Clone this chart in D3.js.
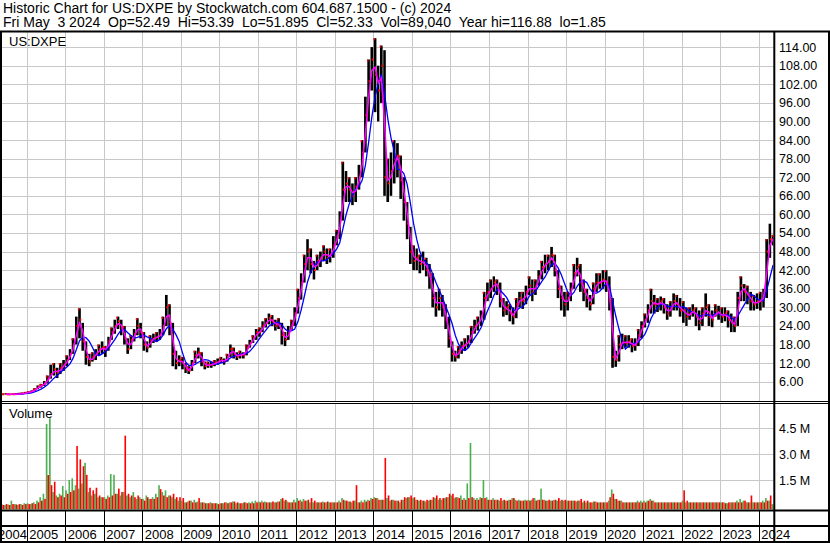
<!DOCTYPE html>
<html>
<head>
<meta charset="utf-8">
<script src="https://cdn.jsdelivr.net/npm/d3@7"></script>
<style>
  body { margin: 0; background: #fff; }
  svg { display: block; font-family: "Liberation Sans", Arial, sans-serif; }
</style>
</head>
<body>
<div id="chart"></div>
<script>
// monthly bars, first one is May 2004, last one is May 2024
const firstYear = 2004, firstMonth = 4

const closes = [
  1.95,2.0,1.9,1.95,2.0,2.1,2.2,2.4,
  2.6,2.9,3.5,4.3,4.8,5.5,7.0,8.5,10.0,8.8,10.5,11.5,
  13,15,18,24,26,19,14,12.5,14,15,16.5,17,
  16,19,22,24,25.5,23,20,16.5,19.5,21.5,24,22,
  18,17,19.5,20,20.5,21,24,30,25,15,12,13,
  12,10,9.5,12,14.5,15.5,12.5,11,11.5,11.5,12,12.5,
  13,12.5,14,16.5,15,14,15,14.5,17,18.5,20,22,
  22,24,25,26.5,25.5,24,25,21,19.5,22,24.5,28,
  33,38,44,48,44,42,45,46,48,46,47,50,
  53,58,68,70,68,66,69,72,80,92,103,110,
  105,100,108,72,70,74,78,79,71,64,57,48,
  45,46,44,45,42,40,33,30,33,30,26,20,
  15,14,16,17.5,18,19,22,24,25,27,33,35,
  36,38,37,32,29,30,28,27,31,33,32,35,
  37,35,37,40,43,44,45,47,42,36,33,31,
  33,36,41,43,38,35,33,31,36,38,38,39,
  38,32,14,13,18,19,18.5,19,17.5,18,21,24,
  26,29,32,31,31,32,30,28,30,32,31,29,
  29,27,28,29,27,25,28,30,27,26,29,28,
  27,28,26,25,24,33,37,35,34,32,31,32,
  32,34,48,52,52.33
]

const highs = [
  2.2,2.3,2.2,2.2,2.3,2.4,2.5,2.7,
  2.9,3.2,3.9,4.8,5.3,6.2,8.0,11.5,12.0,10.5,12.0,13.0,
  14.5,16.5,20,27,29.7,25,19,15,15.5,16.5,18,19,
  17.5,20.5,23.5,26,27,26,24,20,21,23,26.5,25,
  22,19,21,21.5,22,23,27,34,31,25,16,14.5,
  14,12,11,13,16,17,15.5,12.5,12.5,12.5,13,13.5,
  14,13.5,15,18,17,15.5,16,15.5,18,19.5,21,23,
  23.5,25.5,26.5,28,27.5,26,26.5,25,22,24,26,30,
  36,41,47,52,49,45,47,48,50,49,49,53,
  55,61,77,74,72,70,72,76,84,98,110,114,
  116.88,108,114.5,113,78,80,84,83,79,72,64,56,
  50,49,47,48,46,44,41,35,36,34,31,27,
  19,16,17.5,19,20,21,24,26,27,29,35,38,
  39,40,39,38,33,32,31,30,33,35,35,37,
  40,39,39,42,45,47,47,49.5,47,42,37,35,
  35,38,44,46,44,39,36,34,38,41,41,42,
  42,40,33,16,21,21.5,21,21,20,20,23,25.5,
  28,31,36,34,33,33.5,33,31,32,34.5,34,33,
  32,30,30,31,30,29,30,34.5,31,29,31,30.5,
  30,30,29,28,27,35,40,37.5,37,35,34,34.5,
  35,36,52,57,53.39
]

const lows = [
  1.85,1.85,1.85,1.85,1.9,1.95,2.0,2.1,
  2.3,2.5,3.0,3.6,4.1,4.6,5.4,7.0,8.0,7.2,8.5,9.5,
  11,13,15,18,20,16,11.5,11,12.5,13,14.5,15,
  14,16,19.5,21.5,23,21,18,15,16.5,19,21,20,
  16,15.5,17,18.5,19,19.5,21,24,21,11,10,11,
  10,8.8,8.5,9.5,12,13.5,11,10,10.5,10.5,11,11.5,
  12,11.5,12.5,14,13.5,13,13.5,13.5,14.5,17,18.5,19.5,
  20.5,22,23.5,24.5,24,22.5,23,18,17.5,19.5,22.5,24,
  28,32.5,38,42,41,39,42,43,45,44,44.5,46,
  50,52,58,64,64,63,64,68,72,80,90,100,
  93,90,96,66,64,66,70,72,65,58,52,44,
  42,42,41,42,40,36,30,27,29,27,23,17,
  12.5,12.5,13.5,15,16,17,18.5,21.5,22.5,24,26,32,
  33,35,34,30,27,27.5,25.5,24.5,26.5,30,29.5,31,
  34,32,34,37,39,41,42,43,40,33,29,27,
  29,32,36,40,35,32,30,29,31,35,36,36,
  35,29,10.5,10.8,12.5,16.5,17,17,15.5,16,17.5,20,
  23.5,25,28,28,28.5,29,28,26,27,29,29,27,
  25,24,26,27,24,22.6,24,27,24,23.6,27,26,
  25,25.5,23.5,22,22,24,32,32,31,29,29,29.5,
  29,30,33,46,50
]

// volume in millions, split into up-day and down-day volume
const volUp = [
  .1,.05,.08,.3,.1,.05,.1,.15,
  .15,.1,.2,.3,.5,.7,4.76,5.09,.8,.6,.7,1.15,
  .9,1.5,1.6,1.2,1.0,1.3,2.5,.8,.6,.7,.5,.5,
  .5,.6,1.85,1.8,.7,.6,.8,.6,.5,.8,.4,.5,
  .4,.6,.4,.5,.7,1.2,.8,.9,.6,.5,.4,.3,
  .3,.2,.25,.3,.35,.25,.2,.2,.15,.2,.15,.15,
  .15,.15,.2,.2,.25,.15,.15,.15,.2,.2,.25,.3,
  .25,.3,.25,.2,.2,.2,.25,.4,.3,.25,.2,.35,
  .45,.35,.4,.3,.2,.2,.2,.2,.25,.2,.2,.2,
  .2,.3,.45,.3,.25,.2,.3,.2,.3,.35,.35,.45,
  .5,.45,.35,.35,.45,.3,.35,.3,.2,.35,.45,.5,
  .45,.35,.3,.3,.25,.3,.35,.45,.35,.35,.45,.5,
  .6,.45,.5,.6,.45,1.3,3.65,.45,.45,.5,1.5,.5,
  .35,.45,.35,.3,.3,.3,.35,.45,.35,.35,.3,.35,
  .35,.35,.45,.35,1.0,.35,.3,.3,.35,.3,.3,.3,
  .3,.3,.3,.25,.3,.2,.2,.2,.2,.25,.2,.2,
  .2,.3,.95,.4,.3,.3,.2,.2,.2,.2,.3,.3,
  .3,.3,.4,.3,.2,.2,.2,.2,.2,.2,.2,.2,
  .3,.2,.2,.2,.2,.2,.2,.2,.2,.2,.2,.2,
  .2,.2,.15,.2,.2,.3,.4,.3,.2,.2,.2,.2,
  .2,.3,.45,.3,.1
]

const volDown = [
  .05,.1,.05,.1,.08,.1,.05,.1,
  .1,.15,.1,.2,.3,.4,1.79,1.2,1.4,.5,.6,.5,
  .7,.8,.9,3.48,2.7,2.3,1.8,1.05,.9,1.05,.6,.5,
  .4,.5,.6,.7,1.0,.8,4.08,.7,.6,.5,.6,.4,
  .3,.5,.4,.4,.5,.97,.6,.5,.6,.7,.5,.5,
  .45,.2,.3,.2,.2,.45,.2,.15,.15,.15,.15,.1,
  .15,.2,.15,.2,.25,.2,.15,.2,.15,.15,.15,.2,
  .2,.2,.2,.2,.25,.2,.25,.45,.35,.2,.2,.2,
  .3,.25,.3,.35,.45,.3,.2,.2,.2,.25,.2,.2,
  .2,.2,.35,.3,.25,.3,1.2,.2,.2,.25,.3,.4,
  .45,.35,.35,2.78,.6,.35,.3,.3,.35,.5,.5,.6,
  .5,.35,.35,.3,.35,.35,.5,.6,.45,.45,.5,.7,
  .7,.5,.45,.35,.35,.45,.5,.35,.35,.45,.45,.35,
  .35,.35,.35,.45,.35,.3,.35,.45,.3,.3,.3,.3,
  .3,.45,.3,.35,.35,.3,.35,.3,.35,.45,.35,.35,
  .3,.3,.3,.3,.4,.3,.3,.2,.25,.2,.2,.2,
  .2,.5,.7,.4,.3,.2,.2,.2,.2,.2,.2,.2,
  .2,.3,.3,.2,.2,.2,.2,.2,.2,.2,.2,.2,
  .9,.3,.2,.2,.2,.2,.2,.2,.2,.2,.2,.2,
  .2,.15,.2,.2,.2,.2,.2,.3,.2,.6,.2,.2,
  .2,.2,.3,.6,.1
]

const yearLabels = d3.range(2004, 2025).map(String)
const priceTicks = d3.range(6, 115, 6)
const volTicks = [1.5, 3.0, 4.5]

const titleLine = "Historic Chart for US:DXPE by Stockwatch.com 604.687.1500 - (c) 2024"
const quoteLine = "Fri May  3 2024  Op=52.49  Hi=53.39  Lo=51.895  Cl=52.33  Vol=89,040  Year hi=116.88  lo=1.85"
const symbol = "US:DXPE"

// layout
const W = 830, H = 543
const plotL = 2, plotR = 773.3
const priceTop = 32, priceBot = 401
const volTop = 404, volBot = 509.5

const svg = d3.select("#chart").append("svg").attr("width", W).attr("height", H)
svg.append("rect").attr("width", W).attr("height", H).attr("fill", "#fff")

const x = d3.scaleTime()
  .domain([new Date(2005, 0, 1), new Date(2024, 0, 1)])
  .range([26.7, 758.7])
const y = d3.scaleLinear().domain([0, 119.2]).range([400.3, 31])
const yv = d3.scaleLinear().domain([0, 4.5]).range([505.8, 428.4])

const n = Math.min(closes.length, highs.length, lows.length, volUp.length, volDown.length)
const months = d3.range(n).map(i => {
  const d0 = new Date(firstYear, firstMonth + i, 1)
  const d1 = new Date(firstYear, firstMonth + i + 1, 1)
  return {i, x0: x(d0), x1: x(d1), mid: (x(d0) + x(d1)) / 2,
    c: closes[i], h: highs[i], l: lows[i], up: volUp[i], dn: volDown[i]}
})
const years = yearLabels.map(s => new Date(+s, 0, 1))
const crisp = v => Math.round(v) + 0.5
// keep the double spaces of the quote line visible
const keepSpaces = s => s.replace(/  /g, " \u00a0")

const defs = svg.append("defs")
defs.append("clipPath").attr("id", "clipPrice").append("rect")
  .attr("x", plotL).attr("y", priceTop).attr("width", plotR - plotL).attr("height", priceBot - priceTop)
defs.append("clipPath").attr("id", "clipVol").append("rect")
  .attr("x", plotL).attr("y", volTop).attr("width", plotR - plotL).attr("height", volBot - volTop)

//grid
const grid = svg.append("g").attr("stroke", "#c8c8c8").attr("stroke-width", 1)
grid.selectAll(".hp").data(priceTicks).join("line")
  .attr("x1", plotL).attr("x2", plotR).attr("y1", d => crisp(y(d))).attr("y2", d => crisp(y(d)))
grid.selectAll(".hv").data(volTicks).join("line")
  .attr("x1", plotL).attr("x2", plotR).attr("y1", d => crisp(yv(d))).attr("y2", d => crisp(yv(d)))
grid.selectAll(".vp").data(years).join("line")
  .attr("x1", d => crisp(x(d))).attr("x2", d => crisp(x(d))).attr("y1", priceTop).attr("y2", priceBot)
grid.selectAll(".vv").data(years).join("line")
  .attr("x1", d => crisp(x(d))).attr("x2", d => crisp(x(d))).attr("y1", volTop).attr("y2", volBot)

// price bars
const price = svg.append("g").attr("clip-path", "url(#clipPrice)")
price.selectAll(".bar").data(months).join("rect")
  .attr("x", d => d.x0 + 0.3).attr("width", d => d.x1 - d.x0 - 0.6)
  .attr("y", d => y(d.h)).attr("height", d => y(d.l) - y(d.h))
  .attr("fill", "#000")
price.selectAll(".tick").data(months).join("rect")
  .attr("x", d => d.mid).attr("width", 1.8)
  .attr("y", d => y(d.c) - 1).attr("height", 2)
  .attr("fill", "#ff0000")
price.selectAll(".hiTick").data(months.filter(d => d.i % 2 == 0)).join("rect")
  .attr("x", d => d.x0).attr("width", 1.5)
  .attr("y", d => y(d.h)).attr("height", 2)
  .attr("fill", "#ff0000")

function movingAvg(vals, len) {
  return vals.map((v, i) => i < len - 1 ? null : d3.mean(vals.slice(i - len + 1, i + 1)))
}
const maFast = movingAvg(closes.slice(0, n), 2)
const maSlow = movingAvg(closes.slice(0, n), 5)

const maLine = arr => d3.line()
  .defined((d, i) => arr[i] != null)
  .x(d => d.mid)
  .y((d, i) => y(arr[i]))

price.append("path").datum(months).attr("d", maLine(maSlow))
  .attr("fill", "none").attr("stroke", "#0000ff").attr("stroke-width", 1.3)
price.append("path").datum(months).attr("d", maLine(maFast))
  .attr("fill", "none").attr("stroke", "#ff00ff").attr("stroke-width", 1.5)

// volume
const vol = svg.append("g").attr("clip-path", "url(#clipVol)")
vol.selectAll(".vu").data(months).join("rect")
  .attr("x", d => d.x0).attr("width", (d) => (d.x1 - d.x0) / 2)
  .attr("y", d => yv(d.up)).attr("height", d => volBot - yv(d.up))
  .attr("fill", "#4caf50")
vol.selectAll(".vd").data(months).join("rect")
  .attr("x", d => (d.x0 + d.x1) / 2).attr("width", (d) => (d.x1 - d.x0) / 2)
  .attr("y", d => yv(d.dn)).attr("height", d => volBot - yv(d.dn))
  .attr("fill", "#ff0000")

// frame lines
const frame = svg.append("g").attr("fill", "#000")
frame.append("rect").attr("x", 0).attr("y", 30.5).attr("width", W).attr("height", 2)
frame.append("rect").attr("x", 0).attr("y", 31).attr("width", 2).attr("height", H - 31)
frame.append("rect").attr("x", W - 2).attr("y", 31).attr("width", 2).attr("height", H - 31)
frame.append("rect").attr("x", plotR).attr("y", 31).attr("width", 2).attr("height", H - 31)
frame.append("rect").attr("x", 0).attr("y", 401).attr("width", W).attr("height", 1)
frame.append("rect").attr("x", 0).attr("y", 403).attr("width", W).attr("height", 1)
frame.append("rect").attr("x", 0).attr("y", 509.5).attr("width", W).attr("height", 2)
frame.append("rect").attr("x", 0).attr("y", 525).attr("width", W).attr("height", 2)
frame.append("rect").attr("x", 0).attr("y", 541).attr("width", W).attr("height", 2)
frame.selectAll(".sep").data(years).join("rect")
  .attr("x", d => Math.round(x(d))).attr("width", 1)
  .attr("y", 511).attr("height", 30)

// texts
const txt = svg.append("g").attr("font-size", 13).attr("fill", "#000")
txt.append("text").attr("x", 3).attr("y", 13).attr("font-size", 14).text(titleLine)
txt.append("text").attr("x", 3).attr("y", 27).attr("font-size", 14).text(keepSpaces(quoteLine))
txt.append("text").attr("x", 9).attr("y", 46).text(symbol)
txt.append("text").attr("x", 9).attr("y", 418).text("Volume")

txt.selectAll(".py").data(priceTicks).join("text")
  .attr("x", 779).attr("y", d => y(d)).attr("dy", "0.36em").attr("font-size", 12.5)
  .text(d => d3.format(".2f")(d))
txt.selectAll(".vy").data(volTicks).join("text")
  .attr("x", 779).attr("y", d => yv(d)).attr("dy", "0.36em").attr("font-size", 12.5)
  .text(d => d.toFixed(1) + " M")
txt.selectAll(".yl").data(yearLabels).join("text")
  .attr("x", (d, i) => Math.max(x(years[i]) + 2.5, -2))
  .attr("y", 539)
  .text(d => d)
</script>
</body>
</html>
